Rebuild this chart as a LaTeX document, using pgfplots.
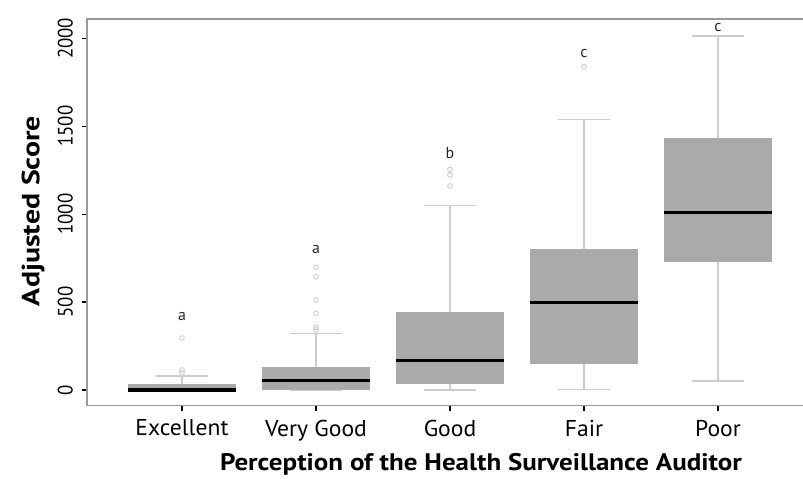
\documentclass[border=0pt]{standalone}
\usepackage{pgfplots}
\pgfplotsset{compat=1.18}
\usepgfplotslibrary{statistics}
\usepackage{fontspec}
\setmainfont{PT Sans}
\newfontfamily\tickfont[FakeStretch=1.03]{PT Sans}
\newfontfamily\ytickfont[FakeStretch=0.9]{PT Sans}
\newfontfamily\titlefont[FakeStretch=1.13]{PT Sans Bold}
\newfontfamily\ylabfont[FakeStretch=1.2]{PT Sans Bold}
\definecolor{boxgray}{HTML}{AAAAAA}
\definecolor{whiskgray}{HTML}{CCCCCC}
\definecolor{axgray}{HTML}{999999}
\begin{document}
\begin{tikzpicture}
\begin{axis}[
  name=ax,
  scale only axis,
  width=726bp, height=386.7bp,
  xmin=-0.709, xmax=4.709,
  ymin=-89.3, ymax=2109.7,
  axis x line*=bottom, axis y line*=left,
  axis line style={draw=none},
  xtick={0,1,2,3,4},
  xticklabels={Excellent,Very Good,Good,Fair,Poor},
  ytick={0,500,1000,1500,2000},
  scaled ticks=false,
  /pgf/number format/1000 sep={},
  /pgf/number format/assume math mode=true,
  tick align=outside,
  major tick length=5bp,
  tick style={black, line width=1.2bp},
  xticklabel style={font=\tickfont\fontsize{23}{26}\selectfont, anchor=north, inner sep=0pt},
  xticklabel shift=9bp,
  yticklabel style={font=\ytickfont\fontsize{21}{24}\selectfont, rotate=90, anchor=south, inner sep=0pt},
  yticklabel shift=9bp,
  xlabel={Perception of the Health Surveillance Auditor},
  xlabel style={font=\titlefont\fontsize{24}{27}\selectfont, at={(axis description cs:0.5427,0)}, anchor=center, yshift=-59bp},
  ylabel={Adjusted Score},
  ylabel style={font=\ylabfont\fontsize{25}{28}\selectfont, at={(axis description cs:-0.0744,0.5035)}, anchor=center},
  clip=false,
  boxplot/draw direction=y,
  boxplot/box extend=0.8,
  boxplot/whisker extend=0.39,
  boxplot/every box/.style={draw=none, fill=boxgray},
  boxplot/every whisker/.style={whiskgray, line width=1.3bp},
  boxplot/every median/.style={black, line width=3.2bp},
]
\addplot[mark=o, mark size=2.4bp, mark options={whiskgray, line width=0.9bp},
  boxplot prepared={draw position=0, lower whisker=0, lower quartile=0, median=0, upper quartile=34, upper whisker=80}]
  table[row sep=\\, y index=0] {98\\114\\295\\};
\addplot[mark=o, mark size=2.4bp, mark options={whiskgray, line width=0.9bp},
  boxplot prepared={draw position=1, lower whisker=0, lower quartile=0, median=53, upper quartile=132, upper whisker=320}]
  table[row sep=\\, y index=0] {341\\356\\436\\511\\644\\697\\};
\addplot[mark=o, mark size=2.4bp, mark options={whiskgray, line width=0.9bp},
  boxplot prepared={draw position=2, lower whisker=0, lower quartile=34, median=170, upper quartile=445, upper whisker=1050}]
  table[row sep=\\, y index=0] {1160\\1222\\1254\\};
\addplot[mark=o, mark size=2.4bp, mark options={whiskgray, line width=0.9bp},
  boxplot prepared={draw position=3, lower whisker=4, lower quartile=148, median=499, upper quartile=800, upper whisker=1539}]
  table[row sep=\\, y index=0] {1838\\};
\addplot[mark=o, mark size=2.4bp, mark options={whiskgray, line width=0.9bp},
  boxplot prepared={draw position=4, lower whisker=51, lower quartile=726, median=1008, upper quartile=1433, upper whisker=2013}]
  coordinates {};
\begin{scope}[font=\fontsize{16}{18}\selectfont, text=black!85]
\node at (axis cs:0,416) {a};
\node at (axis cs:1,801) {a};
\node at (axis cs:2,1350) {b};
\node at (axis cs:3,1914) {c};
\node at (axis cs:4,2063) {c};
\end{scope}
\draw[axgray, line width=1.3bp] (rel axis cs:1,1) -- (rel axis cs:0,1) -- (rel axis cs:0,0) -- (rel axis cs:1,0);
\end{axis}
\pgfresetboundingbox
\path ([xshift=-87bp,yshift=-73.3bp]ax.south west) rectangle ([xshift=-10bp,yshift=19bp]ax.north east);
\end{tikzpicture}
\end{document}
